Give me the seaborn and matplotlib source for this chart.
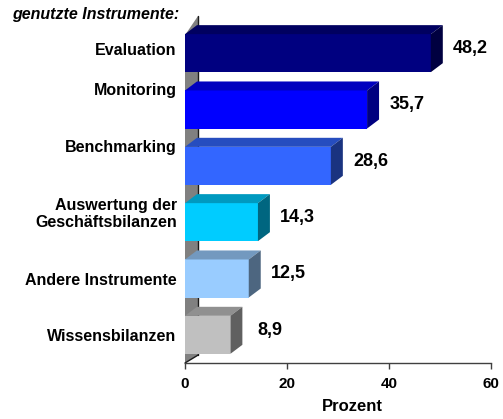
import matplotlib
matplotlib.use('Agg')
import matplotlib.pyplot as plt
import seaborn as sns
import numpy as np
from matplotlib.patches import Polygon
from matplotlib.colors import to_rgb


categories = ['Evaluation', 'Monitoring', 'Benchmarking',
              'Auswertung der\nGeschäftsbilanzen', 'Andere Instrumente', 'Wissensbilanzen']
values = [48.2, 35.7, 28.6, 14.3, 12.5, 8.9]
x_ticks = [0, 20, 40, 60]
front_colors = ['#000080', '#0000FF', '#3366FF', '#00CCFF', '#99CCFF', '#C0C0C0']
title = 'genutzte Instrumente:'
x_label = 'Prozent'

# label nudges (px -> data units) to mimic the original layout
label_shift = [-0.07, -0.37, -0.36, -0.19, 0.0, 0.0]


def shade(c, f):
    r, g, b = to_rgb(c)
    return (r * f, g * f, b * f)


sns.set_theme(style='white')
plt.rcParams['font.family'] = ['Liberation Sans', 'DejaVu Sans']

fig = plt.figure(figsize=(5.03, 4.19), dpi=100)
ax = fig.add_axes([185 / 503, 56 / 419, 306 / 503, 338 / 419])

sns.barplot(x=values, y=categories, hue=categories, palette=front_colors, legend=False,
            width=0.675, saturation=1, orient='h', ax=ax, zorder=2)

ax.set_xlim(0, 60)
ax.set_ylim(5.5, -0.5)

# depth of the 3d effect in data units
dx, dy = 2.35, 0.16

for p in ax.patches:
    x0, y0 = p.get_x(), p.get_y()
    w, h = p.get_width(), p.get_height()
    i = int(round(y0 + h / 2))
    x1, ybot = x0 + w, y0 + h
    p.set_edgecolor('none')
    top = Polygon([(x0, y0), (x1, y0), (x1 + dx, y0 - dy), (x0 + dx, y0 - dy)],
                  closed=True, facecolor=shade(front_colors[i], 0.75), edgecolor='none',
                  zorder=2, clip_on=False)
    side = Polygon([(x1, y0), (x1, ybot), (x1 + dx, ybot - dy), (x1 + dx, y0 - dy)],
                   closed=True, facecolor=shade(front_colors[i], 0.5), edgecolor='none',
                   zorder=2, clip_on=False)
    ax.add_patch(top)
    ax.add_patch(side)
    ax.text(w + 7.8, y0 + h / 2 - dy / 2, f'{values[i]:.1f}'.replace('.', ','),
            ha='center', va='center', fontsize=13, fontweight='bold', color='black')

# grey back wall
wall = Polygon([(0, -0.32), (2.55, -0.66), (2.55, 5.36), (0, 5.5)], closed=True,
               facecolor='#808080', edgecolor='none', zorder=0.5, clip_on=False)
ax.add_patch(wall)
ax.plot([2.55, 2.55], [-0.66, 5.36], color='#1a1a1a', lw=1, zorder=0.6, clip_on=False)
ax.plot([0, 2.55], [5.5, 5.36], color='#1a1a1a', lw=1, zorder=0.6, clip_on=False)

for s in ['top', 'right', 'left']:
    ax.spines[s].set_visible(False)
ax.spines['bottom'].set_color('#404040')
ax.spines['bottom'].set_linewidth(1)

ax.set_xticks(x_ticks)
ax.set_xticklabels([str(t) for t in x_ticks], fontsize=11, fontweight='bold', color='black')
ax.tick_params(axis='x', direction='out', length=4, width=1, color='#404040', pad=6, bottom=True)

ax.set_yticks(np.arange(len(categories)) + np.array(label_shift))
ax.set_yticklabels(categories, fontsize=11.5, fontweight='bold', ha='right', color='black')
ax.tick_params(axis='y', length=0, pad=6)

ax.set_xlabel(x_label, fontsize=12, fontweight='bold', color='black')
ax.xaxis.label.set_va('center')
ax.xaxis.set_label_coords(0.546, -0.130)
ax.set_ylabel('')

fig.text(12 / 503, 1 - 14 / 419, title, ha='left', va='center', fontsize=11.5,
         fontweight='bold', style='italic', color='black')

fig.savefig('out.png', dpi=100)
